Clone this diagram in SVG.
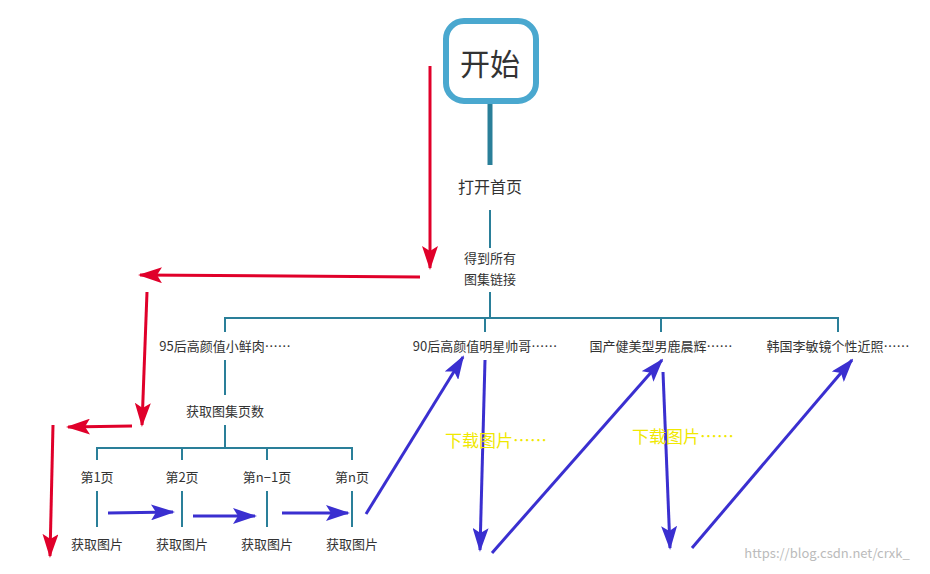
<svg xmlns="http://www.w3.org/2000/svg" width="930" height="574" viewBox="0 0 930 574">
<defs>
<style>
text{font-family:"Noto Sans CJK SC","Liberation Sans",sans-serif;fill:#333;text-anchor:middle}
.t{font-size:13px}
.c{stroke:#2a7f99;stroke-width:2;fill:none}
.r{stroke:#e0002a;stroke-width:3;fill:none}
.b{stroke:#3a2fd0;stroke-width:3;fill:none}
.y{fill:#f0e800;font-size:17px}
</style>
<marker id="mr" markerUnits="userSpaceOnUse" markerWidth="24" markerHeight="16" refX="22" refY="8" orient="auto"><path d="M0,0 L24,8 L0,16 L5,8Z" fill="#e0002a"/></marker>
<marker id="mb" markerUnits="userSpaceOnUse" markerWidth="24" markerHeight="16" refX="22" refY="8" orient="auto"><path d="M0,0 L24,8 L0,16 L5,8Z" fill="#3a2fd0"/></marker>
</defs>
<g id="start"><rect x="446" y="21" width="90" height="80" rx="18" fill="#fff" stroke="#4aa8cf" stroke-width="6"/><text x="490" y="75" style="font-size:30px">开始</text></g>
<g id="connectors">
<line x1="490" y1="104" x2="490" y2="165" stroke="#2a7f99" stroke-width="5"/>
<line class="c" x1="490" y1="210" x2="490" y2="248"/>
<line class="c" x1="490" y1="292" x2="490" y2="318"/>
<path class="c" d="M225,332V318H838V332M485,318V332M661,318V332"/>
<line class="c" x1="225" y1="360" x2="225" y2="395"/>
<line class="c" x1="225" y1="425" x2="225" y2="448"/>
<path class="c" d="M97,460V448H352V460M182,448V460M267,448V460"/>
<path class="c" d="M97,491V527M182,491V527M267,491V527M352,491V527"/>
<line class="r" x1="430" y1="66" x2="430" y2="268" marker-end="url(#mr)"/>
<line class="r" x1="420" y1="277" x2="140" y2="275" marker-end="url(#mr)"/>
<line class="r" x1="147" y1="292" x2="142" y2="425" marker-end="url(#mr)"/>
<line class="r" x1="132" y1="426" x2="68" y2="427" marker-end="url(#mr)"/>
<line class="r" x1="53" y1="425" x2="50" y2="556" marker-end="url(#mr)"/>
<line class="b" x1="108" y1="513" x2="173" y2="512" marker-end="url(#mb)"/>
<line class="b" x1="193" y1="516" x2="255" y2="516" marker-end="url(#mb)"/>
<line class="b" x1="282" y1="513" x2="348" y2="513" marker-end="url(#mb)"/>
<line class="b" x1="366" y1="514" x2="463" y2="357" marker-end="url(#mb)"/>
<line class="b" x1="485" y1="360" x2="480" y2="550" marker-end="url(#mb)"/>
<line class="b" x1="492" y1="553" x2="662" y2="360" marker-end="url(#mb)"/>
<line class="b" x1="663" y1="372" x2="670" y2="548" marker-end="url(#mb)"/>
<line class="b" x1="692" y1="548" x2="852" y2="360" marker-end="url(#mb)"/>
</g>
<g id="n-open"><text x="490" y="193" style="font-size:16px">打开首页</text></g>
<g id="n-links"><text class="t" x="490" y="263">得到所有</text><text class="t" x="490" y="284">图集链接</text></g>
<g id="n-a1"><text class="t" x="225" y="351">95后高颜值小鲜肉……</text></g>
<g id="n-a2"><text class="t" x="485" y="351">90后高颜值明星帅哥……</text></g>
<g id="n-a3"><text class="t" x="661" y="351">国产健美型男鹿晨辉……</text></g>
<g id="n-a4"><text class="t" x="838" y="351">韩国李敏镜个性近照……</text></g>
<g id="n-pages"><text class="t" x="225" y="416">获取图集页数</text></g>
<g id="n-p1"><text class="t" x="97" y="482">第1页</text><text class="t" x="97" y="549">获取图片</text></g>
<g id="n-p2"><text class="t" x="182" y="482">第2页</text><text class="t" x="182" y="549">获取图片</text></g>
<g id="n-p3"><text class="t" x="267" y="482">第n−1页</text><text class="t" x="267" y="549">获取图片</text></g>
<g id="n-p4"><text class="t" x="352" y="482">第n页</text><text class="t" x="352" y="549">获取图片</text></g>
<g id="dl"><text class="y" x="496" y="447">下载图片……</text><text class="y" x="683" y="443">下载图片……</text></g>
<text x="827" y="558" style="font-size:13px;fill:#bbb">https://blog.csdn.net/crxk_</text>
</svg>
